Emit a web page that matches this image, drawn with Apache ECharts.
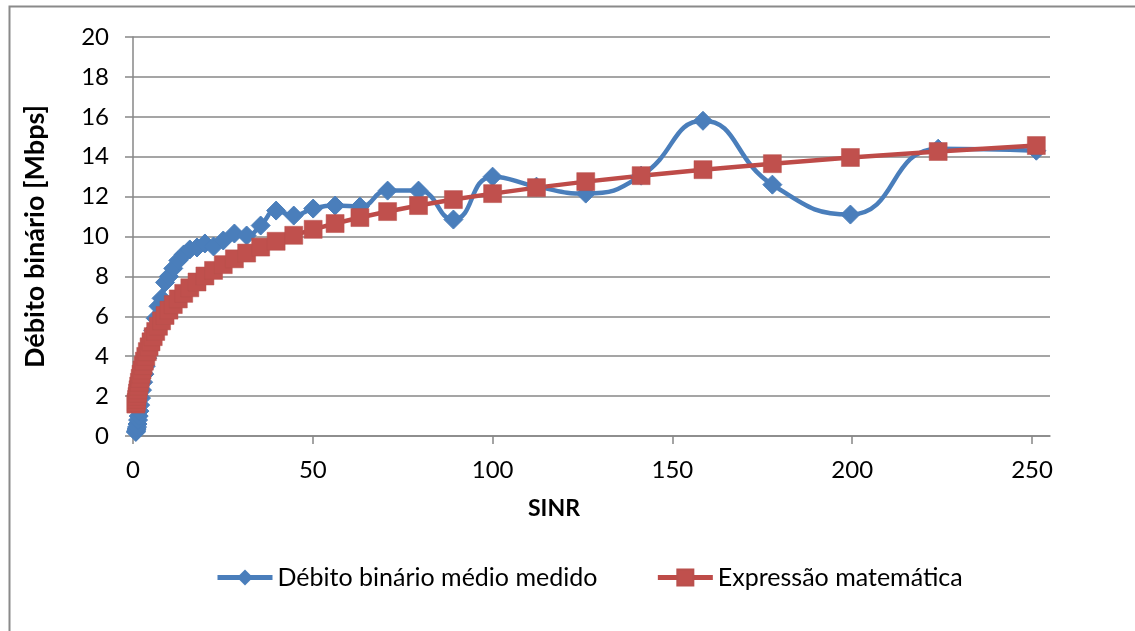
<!DOCTYPE html>
<html>
<head>
<meta charset="utf-8">
<script src="https://cdn.jsdelivr.net/npm/echarts@6/dist/echarts.min.js"></script>
<style>
html,body{margin:0;padding:0;background:#fff;}
#chart{width:1135px;height:631px;}
</style>
</head>
<body>
<div id="chart"></div>
<script>
// SINR (linear) sample points
const sinr = [0.79,0.89,1.0,1.12,1.26,1.41,1.58,1.78,2.0,2.24,2.51,2.82,3.16,3.55,3.98,4.47,5.01,5.62,6.31,7.08,7.94,8.91,10,11.2,12.6,14.1,15.8,17.8,20.0,22.4,25.1,28.2,31.6,35.5,39.8,44.7,50.1,56.2,63.1,70.8,79.4,89.1,100,112.2,125.9,141.3,158.5,177.8,199.5,223.9,251.2];
// Débito binário médio medido [Mbps]
const measured = [0.2,0.25,0.35,0.45,0.6,0.8,1.0,1.25,1.55,1.9,2.3,2.7,3.1,3.5,3.9,4.3,4.8,5.3,5.9,6.5,6.9,7.7,8.0,8.4,8.8,9.1,9.35,9.45,9.65,9.5,9.8,10.15,10.05,10.55,11.3,11.05,11.4,11.55,11.5,12.3,12.3,10.85,13.0,12.5,12.15,13.05,15.8,12.6,11.1,14.4,14.3];
// Expressão matemática [Mbps]
const expression = [1.6,1.68,1.83,1.98,2.15,2.32,2.5,2.69,2.89,3.1,3.31,3.53,3.75,3.99,4.23,4.47,4.72,4.98,5.24,5.5,5.77,6.04,6.31,6.59,6.87,7.15,7.43,7.72,8.02,8.3,8.59,8.88,9.17,9.47,9.76,10.06,10.36,10.65,10.95,11.25,11.55,11.85,12.15,12.45,12.75,13.05,13.35,13.65,13.96,14.26,14.56];
const xTicks = [0,50,100,150,200,250];
const seriesNames = ['Débito binário médio medido','Expressão matemática'];
const xTitle = 'SINR';
const yTitle = 'Débito binário [Mbps]';

const FONT = 'Lato, "Open Sans", sans-serif';
const GRID = '#878787';
const chart = echarts.init(document.getElementById('chart'), null, {renderer:'canvas'});
chart.setOption({
  animation:false,
  backgroundColor:'#ffffff',
  grid:{left:133,right:85,top:37,bottom:195},
  graphic:[
    {type:'rect',left:7,top:4,shape:{width:1300,height:800},style:{fill:'none',stroke:'#8a8a8a',lineWidth:2},silent:true,z:-10},
    {type:'text',left:528,top:497,style:{text:xTitle,font:'bold 23px '+FONT,fill:'#000'}}
  ],
  legend:{
    left:210,top:560,itemWidth:55,itemHeight:20,itemGap:58,
    textStyle:{fontFamily:FONT,fontSize:25,color:'#000'},
    lineStyle:{width:5},
    data:seriesNames
  },
  xAxis:{
    type:'value',min:0,max:255,interval:50,
    axisLine:{show:true,lineStyle:{color:GRID,width:1.5}},
    axisTick:{show:true,length:8,lineStyle:{color:GRID,width:1.5},customValues:xTicks},
    axisLabel:{fontFamily:FONT,fontSize:24,color:'#000',margin:22,customValues:xTicks},
    splitLine:{show:false}
  },
  yAxis:{
    type:'value',min:0,max:20,interval:2,
    name:yTitle,nameLocation:'middle',nameGap:84,nameRotate:90,
    nameTextStyle:{fontFamily:FONT,fontSize:27,fontWeight:'bold',color:'#000'},
    axisLine:{show:true,lineStyle:{color:GRID,width:1.5}},
    axisTick:{show:true,length:8,lineStyle:{color:GRID,width:1.5}},
    axisLabel:{fontFamily:FONT,fontSize:24,color:'#000',margin:24},
    splitLine:{show:true,lineStyle:{color:GRID,width:1.5}}
  },
  series:[
    {
      name:seriesNames[0],type:'line',smooth:0.5,
      data:sinr.map((x,i)=>[x,measured[i]]),
      symbol:'diamond',symbolSize:[19,19],
      lineStyle:{color:'#4a7ebb',width:4.5},
      itemStyle:{color:'#4a7ebb',borderColor:'#4a7ebb'}
    },
    {
      name:seriesNames[1],type:'line',smooth:false,
      data:sinr.map((x,i)=>[x,expression[i]]),
      symbol:'rect',symbolSize:18,
      lineStyle:{color:'#be4b48',width:4.5},
      itemStyle:{color:'#c0504d',borderColor:'#b9504d',borderWidth:0.5}
    }
  ]
});
</script>
</body>
</html>
